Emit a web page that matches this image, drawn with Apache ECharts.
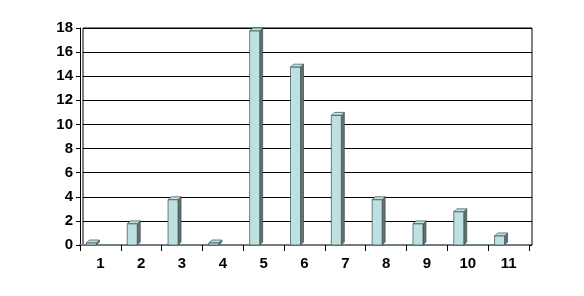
<!DOCTYPE html>
<html><head><meta charset="utf-8">
<script src="https://cdn.jsdelivr.net/npm/echarts@6/dist/echarts.min.js"></script>
<style>html,body{margin:0;padding:0;background:#fff}#c{width:584px;height:296px}</style>
</head><body><div id="c"></div>
<script>
var categories = ['1','2','3','4','5','6','7','8','9','10','11'];
var values = [0, 2, 4, 0, 18, 15, 11, 4, 2, 3, 1];
var yMin = 0, yMax = 18, yStep = 2;

var faceColor = '#bde0e1', sideColor = '#5e7272', edgeColor = '#3d4b4b';
var chart = echarts.init(document.getElementById('c'));
function renderItem(params, api) {
  var i = api.value(0), v = api.value(1);
  var top = api.coord([i, v]);
  var base = api.coord([i, 0]);
  var cx = top[0], fy = top[1], by = base[1];
  var x0 = cx - 14, x1 = cx - 4, d = 3;
  var ft = Math.min(fy + d, by - 2);
  return {type: 'group', children: [
    {type: 'polygon', shape: {points: [[x1, ft], [x1 + d, ft - d], [x1 + d, by - d], [x1, by]]},
      style: {fill: sideColor, stroke: edgeColor, lineWidth: 0.7}},
    {type: 'polygon', shape: {points: [[x0, ft], [x1, ft], [x1 + d, ft - d], [x0 + d, ft - d]]},
      style: {fill: faceColor, stroke: edgeColor, lineWidth: 0.7}},
    {type: 'rect', shape: {x: x0, y: ft, width: x1 - x0, height: by - ft},
      style: {fill: faceColor, stroke: edgeColor, lineWidth: 0.7}}
  ]};
}
var font = {fontFamily: 'Liberation Sans, Arial, sans-serif', fontSize: 15, fontWeight: 'bold', color: '#000'};
chart.setOption({
  animation: false,
  grid: [
    {left: 83, right: 52, top: 28, bottom: 51, show: true, borderColor: '#000', borderWidth: 1},
    {left: 80, right: 55, top: 28, bottom: 51}
  ],
  xAxis: [
    {gridIndex: 0, type: 'category', data: categories, show: false},
    {gridIndex: 1, type: 'category', data: categories,
      axisLine: {lineStyle: {color: '#6f7f7f', width: 2}},
      axisTick: {show: true, length: 6, lineStyle: {color: '#000'}},
      axisLabel: Object.assign({margin: 11}, font)}
  ],
  yAxis: [
    {gridIndex: 0, type: 'value', min: yMin, max: yMax, interval: yStep, offset: 3,
      axisLine: {show: true, lineStyle: {color: '#000'}},
      axisTick: {show: true, length: 4, lineStyle: {color: '#000'}},
      axisLabel: Object.assign({margin: 7}, font),
      splitLine: {show: true, lineStyle: {color: '#000', width: 1}}},
    {gridIndex: 1, type: 'value', min: yMin, max: yMax, interval: yStep, show: false}
  ],
  series: [{
    type: 'custom', xAxisIndex: 1, yAxisIndex: 1,
    data: values.map(function (v, i) { return [i, v]; }),
    encode: {x: 0, y: 1},
    renderItem: renderItem
  }]
});
</script></body></html>
